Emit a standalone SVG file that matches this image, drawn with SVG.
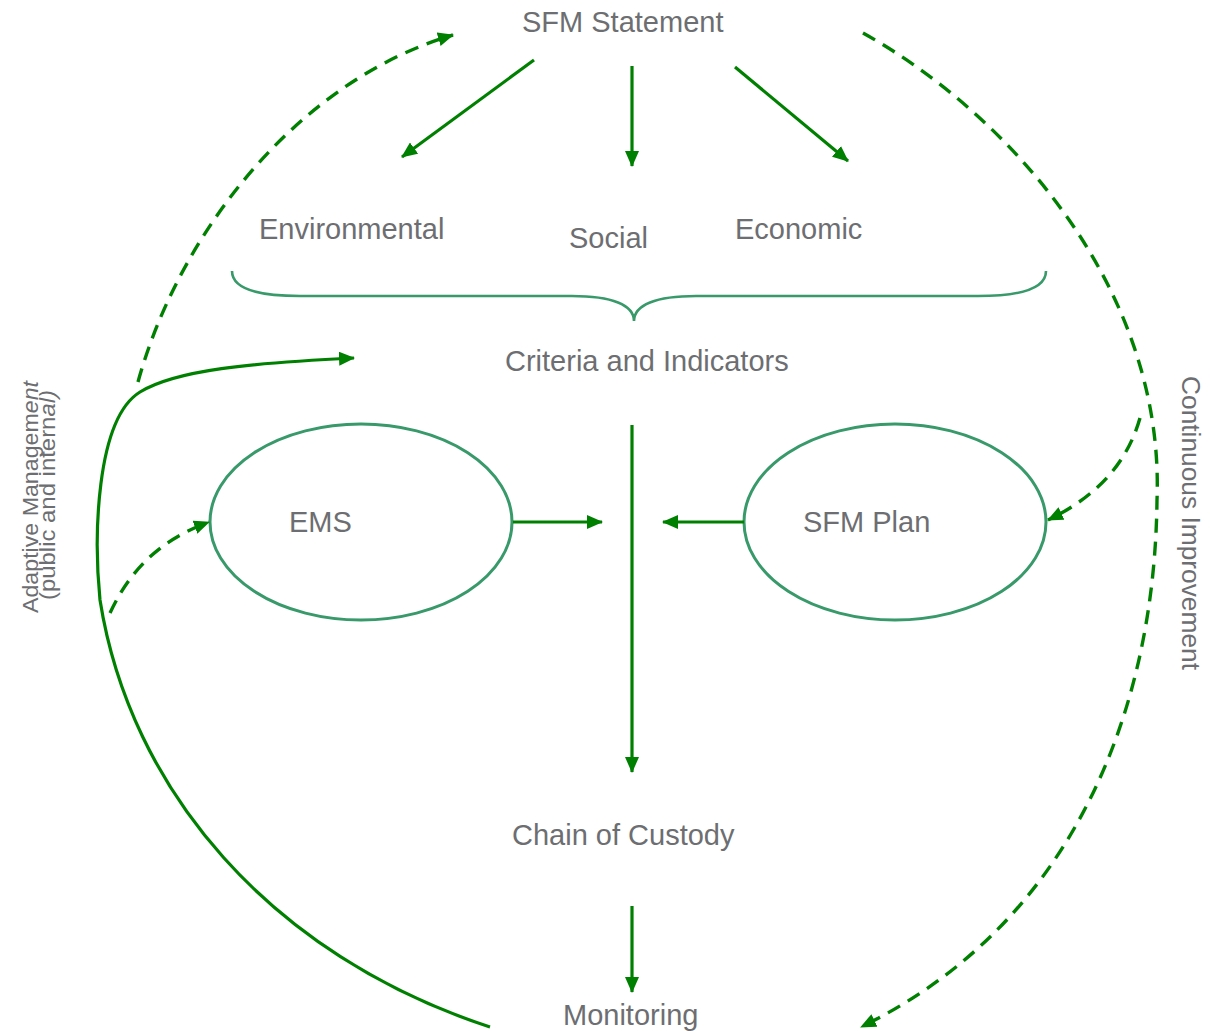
<svg xmlns="http://www.w3.org/2000/svg" width="1210" height="1031" viewBox="0 0 1210 1031">
<style>
.lbl{font-family:"Liberation Sans",Arial,sans-serif;font-size:29px;fill:#6d6e71}
.side{font-family:"Liberation Sans",Arial,sans-serif;font-size:22px;fill:#6d6e71}
.side2{font-family:"Liberation Sans",Arial,sans-serif;font-size:25px;fill:#6d6e71}
.node{fill:none;stroke:#38996a;stroke-width:3}
.brace{fill:none;stroke:#38996a;stroke-width:2.6}
.c{fill:none;stroke:#008000;stroke-width:3.2}
.d{fill:none;stroke:#008000;stroke-width:3.4;stroke-dasharray:14 9}
</style>
<defs>
<marker id="ah" markerUnits="userSpaceOnUse" markerWidth="16" markerHeight="14" refX="15" refY="7" orient="auto" viewBox="0 0 16 14">
<path d="M0,0 L16,7 L0,14 z" fill="#008000"/>
</marker>
</defs>
<rect width="1210" height="1031" fill="#ffffff"/>
<g id="sfm-statement"><text class="lbl" x="522" y="32">SFM Statement</text></g>
<g id="environmental"><text class="lbl" x="259" y="239">Environmental</text></g>
<g id="social"><text class="lbl" x="569" y="248">Social</text></g>
<g id="economic"><text class="lbl" x="735" y="239">Economic</text></g>
<g id="brace"><path class="brace" d="M232,271 C232,290 260,296 300,296 L572,296 C612,296 634,305 634,321 C634,305 656,296 696,296 L978,296 C1018,296 1046,290 1046,271"/></g>
<g id="criteria"><text class="lbl" x="505" y="371">Criteria and Indicators</text></g>
<g id="ems"><ellipse class="node" cx="361" cy="522" rx="151" ry="98"/><text class="lbl" x="289" y="532">EMS</text></g>
<g id="sfm-plan"><ellipse class="node" cx="895" cy="522" rx="151" ry="98"/><text class="lbl" x="803" y="532">SFM Plan</text></g>
<g id="chain"><text class="lbl" x="512" y="845">Chain of Custody</text></g>
<g id="monitoring"><text class="lbl" x="563" y="1025">Monitoring</text></g>
<g id="adaptive-label"><text class="side" transform="translate(38,497) rotate(-90)" text-anchor="middle" textLength="232" lengthAdjust="spacingAndGlyphs">Adaptive Managem<tspan font-style="italic">ent</tspan></text><text class="side" transform="translate(55,495) rotate(-90)" text-anchor="middle" textLength="210" lengthAdjust="spacingAndGlyphs">(public and intern<tspan font-style="italic">al)</tspan></text></g>
<g id="continuous-label"><text class="side2" transform="translate(1182,523) rotate(90)" text-anchor="middle" textLength="294" lengthAdjust="spacingAndGlyphs">Continuous Improvement</text></g>
<g id="connectors">
<path class="c" d="M534,60 L402,157" marker-end="url(#ah)"/>
<path class="c" d="M632,66 L632,166" marker-end="url(#ah)"/>
<path class="c" d="M735,67 L848,161" marker-end="url(#ah)"/>
<path class="c" d="M632,425 L632,772" marker-end="url(#ah)"/>
<path class="c" d="M513,522 L602,522" marker-end="url(#ah)"/>
<path class="c" d="M744,522 L663,522" marker-end="url(#ah)"/>
<path class="c" d="M632,906 L632,992" marker-end="url(#ah)"/>
<path class="c" d="M490,1027 C270,955 130,790 100,600 C94,540 95,420 140,392 C176,370 250,363 354,358" marker-end="url(#ah)"/>
<path class="d" d="M138,382 C180,230 300,80 453,35" marker-end="url(#ah)"/>
<path class="d" d="M110,613 C130,570 160,540 209,522" marker-end="url(#ah)"/>
<path class="d" d="M863,33 C1010,115 1165,290 1157,500 C1155,700 1080,920 861,1027" marker-end="url(#ah)"/>
<path class="d" d="M1140,418 C1128,460 1100,495 1048,520" marker-end="url(#ah)"/>
</g>
</svg>
